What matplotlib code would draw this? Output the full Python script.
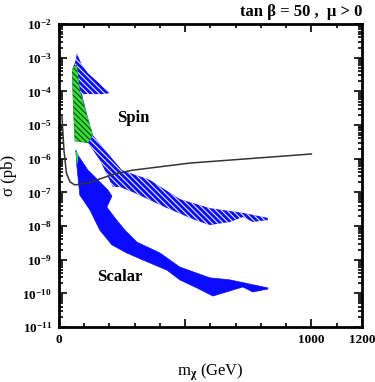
import numpy as np
import matplotlib
matplotlib.use("Agg")
import matplotlib.pyplot as plt
from matplotlib.ticker import FixedLocator, MultipleLocator, LogLocator, FuncFormatter, NullFormatter

# spin-dependent region (mass in GeV, log10 of sigma in pb), outline
spin_mass = [71, 91, 115, 154, 178, 202, 178, 91, 107, 123, 135, 182, 250, 360, 479,
             598, 729, 828, 828, 768, 729, 677, 598, 539, 420, 301, 242, 214, 162,
             115, 63, 59, 55, 52, 67]
spin_logsig = [-2.86, -3.22, -3.46, -3.72, -3.90, -4.05, -4.08, -4.08, -4.55, -5.00,
               -5.30, -5.74, -6.34, -6.63, -7.20, -7.47, -7.61, -7.76, -7.82, -7.88,
               -7.73, -7.88, -7.97, -7.82, -7.44, -7.02, -6.84, -6.84, -6.04, -5.53,
               -5.48, -4.85, -4.11, -3.37, -3.07]

# green part of the spin region
spin_green_mass = [52, 71, 83, 111, 135, 115, 63, 59, 55]
spin_green_logsig = [-3.34, -3.19, -3.96, -4.70, -5.30, -5.53, -5.48, -4.85, -4.11]

# scalar region outline
scalar_mass = [67, 75, 115, 162, 194, 210, 190, 222, 261, 309, 400, 479, 598, 677, 828,
               828, 768, 729, 610, 547, 479, 428, 333, 269, 210, 162, 123, 83, 71]
scalar_logsig = [-5.74, -5.89, -6.34, -6.69, -6.93, -7.11, -7.44, -7.76, -8.12, -8.48,
                 -8.80, -9.22, -9.54, -9.60, -9.84, -9.87, -9.96, -9.81, -10.08, -9.84,
                 -9.60, -9.31, -9.01, -8.80, -8.56, -8.12, -7.52, -7.08, -6.19]

scalar_green_mass = [67, 77, 75, 71]
scalar_green_logsig = [-5.74, -5.90, -6.10, -6.19]

# experimental limit curve
limit_mass = [12, 20, 30, 44, 63, 115, 222, 293, 519, 1000]
limit_logsig = [-4.70, -5.74, -6.43, -6.69, -6.78, -6.72, -6.45, -6.34, -6.13, -5.86]

plt.rcParams['font.family'] = ['Liberation Serif', 'DejaVu Serif']
plt.rcParams['font.weight'] = 'bold'
plt.rcParams['mathtext.fontset'] = 'custom'
plt.rcParams['mathtext.rm'] = 'Liberation Serif:bold'
plt.rcParams['mathtext.bf'] = 'Liberation Serif:bold'
plt.rcParams['mathtext.it'] = 'Liberation Serif:bold'
plt.rcParams['mathtext.default'] = 'bf'
plt.rcParams['hatch.linewidth'] = 0.8

blue = '#0a0aff'
green = '#33e033'
hatch = '\\' * 6

fig = plt.figure(figsize=(3.75, 3.82), dpi=100)
ax = fig.add_axes([0.157, 0.144, 0.808, 0.793])

sig = lambda v: 10 ** np.array(v)

ax.fill(spin_mass, sig(spin_logsig), facecolor=blue, edgecolor='#e8e8ff',
        hatch=hatch, linewidth=0)
ax.fill(spin_green_mass, sig(spin_green_logsig), facecolor=green, edgecolor='#104010',
        hatch=hatch, linewidth=0)
ax.fill(scalar_mass, sig(scalar_logsig), facecolor=blue, edgecolor=blue, linewidth=0.5)
ax.fill(scalar_green_mass, sig(scalar_green_logsig), facecolor=green, linewidth=0)
ax.plot(limit_mass, sig(limit_logsig), color='#333333', linewidth=1.1)

ax.set_yscale('log')
ax.set_xlim(0, 1200)
ax.set_ylim(1e-11, 1e-2)

ax.xaxis.set_major_locator(FixedLocator([0, 500, 1000, 1200]))
ax.set_xticklabels(['0', '', '1000', '1200'])
ax.xaxis.set_minor_locator(MultipleLocator(100))
ax.yaxis.set_major_locator(LogLocator(base=10, numticks=20))
ax.yaxis.set_minor_locator(LogLocator(base=10, subs=np.arange(2, 10), numticks=20))
ax.yaxis.set_major_formatter(FuncFormatter(lambda v, p: r'$10^{%d}$' % round(np.log10(v))))
ax.yaxis.set_minor_formatter(NullFormatter())

ax.tick_params(which='both', direction='in', top=True, right=True, width=1.2)
ax.tick_params(which='major', length=6, labelsize=9.5, pad=5)
ax.tick_params(which='minor', length=3)
for s in ax.spines.values():
    s.set_linewidth(2)

ax.text(293, 10 ** -4.79, 'Spin', fontsize=12, fontweight='bold', ha='center', va='center')
ax.text(242, 10 ** -9.51, 'Scalar', fontsize=12, fontweight='bold', ha='center', va='center')

ax.set_xlabel(r'm$_{\chi}$ (GeV)', fontsize=12, labelpad=11)
ax.set_ylabel('σ (pb)', fontsize=12, labelpad=4)
fig.text(0.965, 0.968, 'tan β = 50 ,  μ > 0', fontsize=12, fontweight='bold',
         ha='right', va='center')

fig.savefig('out.png', dpi=100)
